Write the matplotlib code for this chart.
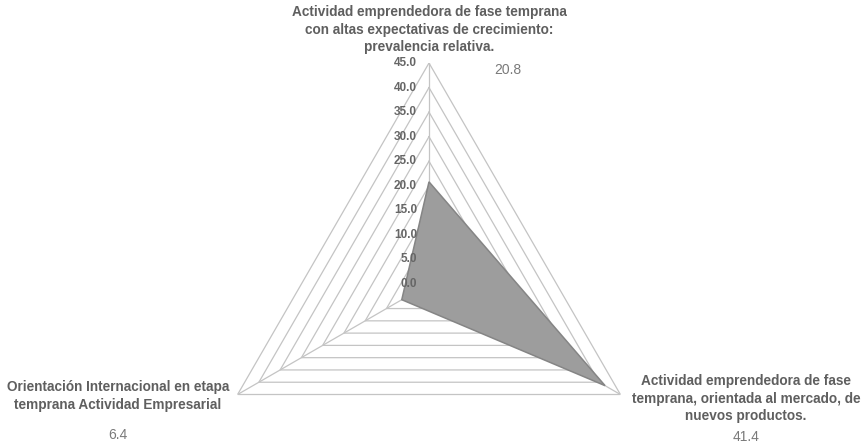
import numpy as np
import matplotlib
matplotlib.use("Agg")
import matplotlib.pyplot as plt

plt.rcParams['font.family'] = ['Liberation Sans', 'DejaVu Sans']

categories = [
    "Actividad emprendedora de fase temprana\ncon altas expectativas de crecimiento:\nprevalencia relativa.",
    "Actividad emprendedora de fase\ntemprana, orientada al mercado, de\nnuevos productos.",
    "Orientación Internacional en etapa\ntemprana Actividad Empresarial",
]
values = [20.8, 41.4, 6.4]
value_labels = ["20.8", "41.4", "6.4"]
ticks = [0, 5, 10, 15, 20, 25, 30, 35, 40, 45]
tick_labels = ["0.0", "5.0", "10.0", "15.0", "20.0", "25.0", "30.0", "35.0", "40.0", "45.0"]

W, H = 861, 444
fig = plt.figure(figsize=(W / 100, H / 100), dpi=100)
cx, cy, R = 429, 444 - 284, 221
ax = fig.add_axes([(cx - R) / W, (cy - R) / H, 2 * R / W, 2 * R / H], projection='polar')
ax.set_theta_offset(np.pi / 2)
ax.set_theta_direction(-1)
ax.set_ylim(0, 45)
ax.axis('off')

n = len(categories)
angles = np.arange(n) * 2 * np.pi / n
closed = np.concatenate([angles, angles[:1]])

grid_col = '#c4c4c4'
for t in ticks[1:]:
    ax.plot(closed, [t] * (n + 1), color=grid_col, lw=0.9, zorder=1)
for a in angles:
    ax.plot([a, a], [0, ticks[-1]], color=grid_col, lw=0.9, zorder=1)

vals = np.array(values + values[:1])
ax.fill(closed, vals, facecolor='#9d9d9d', edgecolor='#858585', lw=1.1, zorder=3)

for t, lab in zip(ticks, tick_labels):
    ax.annotate(lab, xy=(0, t), xytext=(-12, 0), textcoords='offset pixels',
                ha='right', va='center', fontsize=8.5, fontweight='bold',
                color='#666666', zorder=5)

lab_col = '#5f5f5f'
val_col = '#7a7a7a'
fs_lab = 9.8
fs_val = 10
ls = 1.32
fig.text(429 / W, 1 - 5 / H, categories[0], ha='center', va='top', fontsize=fs_lab,
         fontweight='bold', color=lab_col, linespacing=ls)
fig.text(494 / W, 1 - 70 / H, value_labels[0], ha='left', va='center', fontsize=fs_val, color=val_col)

fig.text(746 / W, 1 - 374 / H, categories[1], ha='center', va='top', fontsize=fs_lab,
         fontweight='bold', color=lab_col, linespacing=ls)
fig.text(746 / W, 1 - 437 / H, value_labels[1], ha='center', va='center', fontsize=fs_val, color=val_col)

fig.text(118 / W, 1 - 380 / H, categories[2], ha='center', va='top', fontsize=fs_lab,
         fontweight='bold', color=lab_col, linespacing=ls)
fig.text(118 / W, 1 - 435 / H, value_labels[2], ha='center', va='center', fontsize=fs_val, color=val_col)

fig.savefig('out.png', dpi=100, facecolor='white')
